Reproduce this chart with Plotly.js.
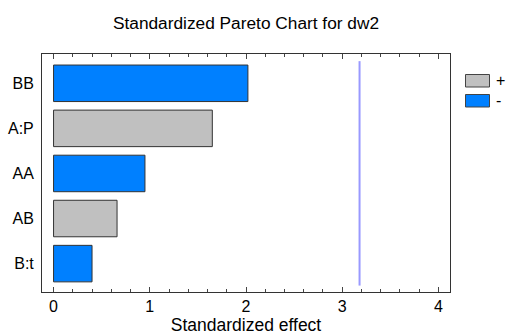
<!DOCTYPE html>
<html>
<head>
<meta charset="utf-8">
<script src="https://cdn.plot.ly/plotly-3.0.1.min.js"></script>
<style>html,body{margin:0;padding:0;background:#fff;}#chart{width:508px;height:335px;}</style>
</head>
<body>
<div id="chart"></div>
<script>
// Data (bottom to top)
const categories = ["B:t", "AB", "AA", "A:P", "BB"];
const effects = [0.40, 0.66, 0.95, 1.65, 2.02];
const signs = ["-", "+", "-", "+", "-"];
const criticalValue = 3.18;
const xTickVals = [0, 1, 2, 3, 4];
const legendLabels = ["+", "-"];

const colorFor = {"+": "#c0c0c0", "-": "#0080ff"};
const font = "Arial, 'Liberation Sans', sans-serif";

const trace = {
  type: "bar",
  orientation: "h",
  y: categories,
  x: effects,
  width: 0.81,
  marker: {
    color: signs.map(s => colorFor[s]),
    line: {color: "#333333", width: 1}
  },
  showlegend: false,
  hoverinfo: "x+y"
};

// Custom legend (rectangles + labels, like the original)
const legendShapes = [];
const legendAnn = [];
legendLabels.forEach((lab, i) => {
  const y0 = 74.5 + i * 20, y1 = y0 + 12.5;
  legendShapes.push({
    type: "rect", xref: "paper", yref: "paper",
    x0: (465.5 - 42) / 408, x1: (489.5 - 42) / 408,
    y0: (292 - y1) / 238, y1: (292 - y0) / 238,
    fillcolor: colorFor[lab], line: {color: "#444444", width: 1}
  });
  legendAnn.push({
    xref: "paper", yref: "paper", showarrow: false,
    x: (494 - 42) / 408, y: (292 - (y0 + 6)) / 238,
    xanchor: "left", yanchor: "middle",
    text: lab, font: {family: font, size: 16, color: "#000"}
  });
});

const layout = {
  width: 508, height: 335,
  margin: {l: 42, r: 58, t: 54, b: 43},
  paper_bgcolor: "#ffffff", plot_bgcolor: "#ffffff",
  font: {family: font, size: 16, color: "#000"},
  title: {
    text: "Standardized Pareto Chart for dw2",
    font: {family: font, size: 17.3, color: "#000"},
    x: 246 / 508, xanchor: "center", xref: "container",
    y: 1 - 23 / 335, yanchor: "middle", yref: "container"
  },
  xaxis: {
    range: [-0.12, 4.12],
    tickvals: xTickVals,
    ticks: "inside", ticklen: 5, tickwidth: 1, tickcolor: "#444",
    minor: {dtick: 0.2, tick0: 0, ticks: "inside", ticklen: 3, tickcolor: "#444", showgrid: false},
    showline: true, linecolor: "#333", linewidth: 1, mirror: "allticks",
    showgrid: false, zeroline: false,
    tickfont: {family: font, size: 16, color: "#000"},
    title: {text: "Standardized effect", font: {family: font, size: 17.5, color: "#000"}, standoff: 7},
    fixedrange: true
  },
  yaxis: {
    type: "category",
    categoryorder: "array", categoryarray: categories,
    range: [-0.63, 4.65],
    ticks: "", showline: true, linecolor: "#333", linewidth: 1, mirror: true,
    showgrid: false, zeroline: false,
    tickfont: {family: font, size: 16, color: "#000"},
    ticklabelstandoff: 4,
    fixedrange: true
  },
  shapes: [
    {type: "line", xref: "x", yref: "paper", x0: criticalValue, x1: criticalValue,
     y0: 0.027, y1: 0.97, line: {color: "#9999ff", width: 2}}
  ].concat(legendShapes),
  annotations: legendAnn,
  showlegend: false,
  bargap: 0.19
};

Plotly.newPlot("chart", [trace], layout, {displayModeBar: false, staticPlot: true});
</script>
</body>
</html>
